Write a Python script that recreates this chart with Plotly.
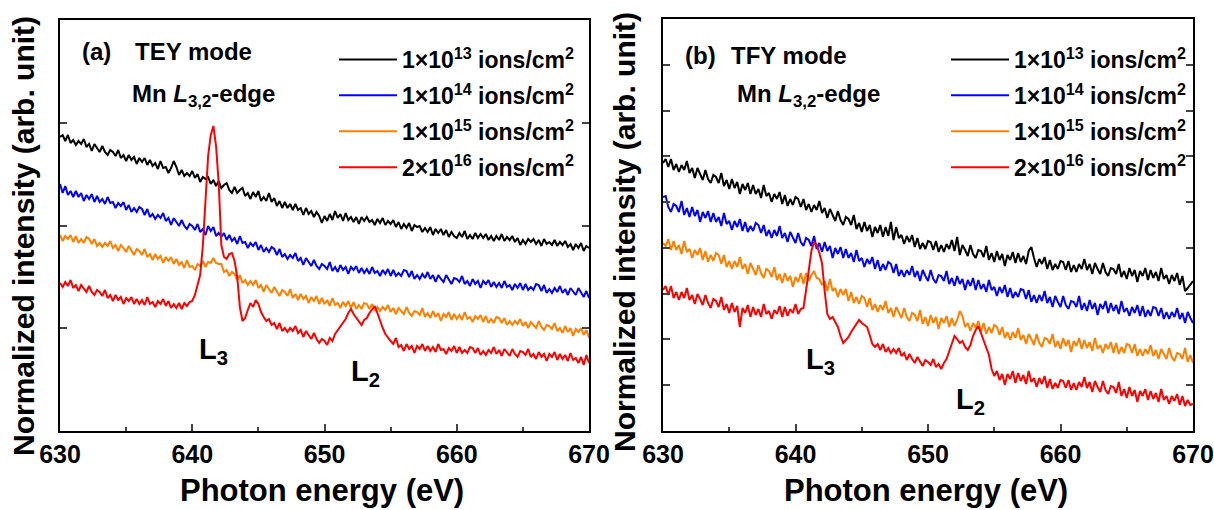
import plotly.graph_objects as go

W, H = 1214, 510

# photon energy grid (eV)
energy = [630.0,
          630.2, 630.4, 630.6, 630.8, 631.0, 631.2, 631.4, 631.6, 631.8, 632.0,
          632.2, 632.4, 632.6, 632.8, 633.0, 633.2, 633.4, 633.6, 633.8, 634.0,
          634.2, 634.4, 634.6, 634.8, 635.0, 635.2, 635.4, 635.6, 635.8, 636.0,
          636.2, 636.4, 636.6, 636.8, 637.0, 637.2, 637.4, 637.6, 637.8, 638.0,
          638.2, 638.4, 638.6, 638.8, 639.0, 639.2, 639.4, 639.6, 639.8, 640.0,
          640.2, 640.4, 640.6, 640.8, 641.0, 641.2, 641.4, 641.6, 641.8, 642.0,
          642.2, 642.4, 642.6, 642.8, 643.0, 643.2, 643.4, 643.6, 643.8, 644.0,
          644.2, 644.4, 644.6, 644.8, 645.0, 645.2, 645.4, 645.6, 645.8, 646.0,
          646.2, 646.4, 646.6, 646.8, 647.0, 647.2, 647.4, 647.6, 647.8, 648.0,
          648.2, 648.4, 648.6, 648.8, 649.0, 649.2, 649.4, 649.6, 649.8, 650.0,
          650.2, 650.4, 650.6, 650.8, 651.0, 651.2, 651.4, 651.6, 651.8, 652.0,
          652.2, 652.4, 652.6, 652.8, 653.0, 653.2, 653.4, 653.6, 653.8, 654.0,
          654.2, 654.4, 654.6, 654.8, 655.0, 655.2, 655.4, 655.6, 655.8, 656.0,
          656.2, 656.4, 656.6, 656.8, 657.0, 657.2, 657.4, 657.6, 657.8, 658.0,
          658.2, 658.4, 658.6, 658.8, 659.0, 659.2, 659.4, 659.6, 659.8, 660.0,
          660.2, 660.4, 660.6, 660.8, 661.0, 661.2, 661.4, 661.6, 661.8, 662.0,
          662.2, 662.4, 662.6, 662.8, 663.0, 663.2, 663.4, 663.6, 663.8, 664.0,
          664.2, 664.4, 664.6, 664.8, 665.0, 665.2, 665.4, 665.6, 665.8, 666.0,
          666.2, 666.4, 666.6, 666.8, 667.0, 667.2, 667.4, 667.6, 667.8, 668.0,
          668.2, 668.4, 668.6, 668.8, 669.0, 669.2, 669.4, 669.6, 669.8, 670.0]

series_names = ["1×10<sup>13</sup> ions/cm<sup>2</sup>",
                "1×10<sup>14</sup> ions/cm<sup>2</sup>",
                "1×10<sup>15</sup> ions/cm<sup>2</sup>",
                "2×10<sup>16</sup> ions/cm<sup>2</sup>"]
series_colors = ["#000000", "#0000FF", "#FF8000", "#FF0000"]

# ---------------- (a) TEY mode (arb. units) ----------------
tey_1e13 = [294,
            296, 290, 296, 288, 291, 286, 290, 287, 292, 284,
            287, 280, 287, 283, 279, 285, 279, 276, 281, 279,
            275, 281, 273, 276, 270, 276, 271, 274, 267, 273,
            269, 273, 266, 271, 265, 268, 262, 270, 263, 264,
            258, 263, 270, 264, 256, 261, 255, 258, 255, 260,
            253, 257, 249, 254, 252, 254, 247, 251, 245, 250,
            243, 246, 248, 241, 238, 244, 238, 241, 243, 235,
            238, 232, 239, 234, 240, 230, 234, 230, 238, 229,
            233, 225, 230, 223, 229, 223, 227, 221, 227, 221,
            223, 216, 223, 217, 220, 214, 219, 215, 208, 215,
            210, 217, 211, 220, 213, 217, 210, 218, 211, 214,
            209, 214, 207, 214, 210, 214, 209, 211, 206, 212,
            208, 213, 206, 210, 207, 211, 204, 209, 202, 207,
            203, 208, 200, 206, 204, 205, 199, 203, 199, 204,
            196, 202, 198, 202, 196, 201, 194, 199, 195, 193,
            198, 194, 200, 192, 196, 192, 198, 193, 197, 193,
            197, 191, 195, 190, 195, 191, 197, 190, 194, 191,
            195, 189, 193, 186, 191, 187, 192, 189, 192, 187,
            191, 185, 192, 187, 189, 186, 191, 185, 189, 186,
            190, 184, 187, 181, 187, 183, 188, 180, 185, 183]
tey_1e14 = [247,
            238, 245, 236, 240, 234, 240, 234, 238, 230, 236,
            232, 237, 229, 235, 229, 232, 227, 234, 228, 229,
            223, 228, 225, 229, 221, 226, 219, 223, 219, 224,
            222, 216, 222, 214, 217, 212, 216, 213, 218, 210,
            213, 206, 213, 209, 205, 211, 205, 202, 207, 205,
            201, 207, 199, 202, 196, 205, 200, 204, 195, 198,
            194, 198, 191, 196, 190, 193, 187, 195, 188, 189,
            183, 188, 185, 189, 181, 186, 179, 183, 179, 184,
            182, 176, 182, 174, 177, 172, 176, 173, 178, 170,
            173, 166, 173, 169, 165, 171, 165, 162, 167, 165,
            162, 169, 160, 164, 159, 166, 161, 164, 157, 164,
            161, 165, 158, 163, 158, 162, 157, 164, 158, 160,
            155, 161, 157, 162, 155, 161, 155, 158, 155, 161,
            160, 154, 160, 152, 156, 152, 157, 153, 159, 152,
            156, 149, 156, 152, 149, 156, 151, 147, 153, 152,
            149, 155, 147, 150, 145, 152, 147, 150, 143, 150,
            147, 151, 144, 149, 144, 148, 143, 150, 144, 146,
            141, 147, 143, 148, 141, 147, 141, 144, 141, 147,
            146, 140, 146, 138, 142, 138, 143, 139, 145, 138,
            142, 136, 143, 139, 136, 143, 138, 134, 140, 133]
tey_1e15 = [196,
            190, 195, 192, 196, 189, 195, 188, 192, 188, 194,
            192, 187, 192, 185, 188, 184, 188, 185, 190, 183,
            186, 180, 186, 183, 179, 185, 180, 176, 182, 180,
            176, 182, 174, 177, 171, 177, 172, 175, 168, 174,
            170, 174, 167, 172, 166, 169, 163, 171, 164, 165,
            161, 167, 165, 170, 164, 169, 168, 173, 168, 167,
            167, 159, 161, 155, 159, 157, 151, 156, 148, 151,
            146, 150, 146, 151, 143, 146, 139, 146, 142, 138,
            144, 139, 135, 141, 139, 135, 142, 133, 137, 131,
            137, 132, 135, 128, 134, 130, 135, 127, 133, 127,
            131, 125, 133, 126, 128, 123, 129, 125, 130, 123,
            129, 122, 126, 122, 128, 127, 122, 127, 120, 124,
            120, 124, 121, 126, 119, 123, 117, 123, 120, 117,
            124, 118, 115, 120, 119, 116, 123, 114, 118, 113,
            120, 114, 118, 110, 117, 114, 119, 111, 117, 112,
            116, 111, 119, 112, 114, 109, 115, 112, 116, 109,
            115, 108, 112, 108, 114, 113, 108, 113, 106, 110,
            106, 110, 107, 112, 105, 109, 103, 109, 106, 103,
            110, 104, 101, 106, 105, 102, 108, 100, 103, 98,
            105, 99, 103, 95, 102, 99, 103, 96, 101, 93]
tey_2e16 = [148,
            144, 149, 145, 151, 143, 146, 140, 146, 143, 139,
            145, 139, 136, 141, 139, 135, 141, 133, 136, 130,
            136, 131, 134, 127, 133, 130, 134, 127, 132, 127,
            131, 126, 134, 127, 129, 124, 130, 127, 132, 125,
            130, 123, 127, 123, 128, 122, 128, 125, 129, 130,
            136, 145, 156, 185, 232, 275, 296, 305, 285, 248,
            186, 174, 172, 177, 178, 170, 154, 124, 110, 113,
            121, 128, 124, 131, 127, 119, 114, 110, 112, 106,
            108, 102, 108, 100, 103, 99, 103, 100, 105, 98,
            101, 94, 100, 96, 92, 98, 92, 88, 92, 90,
            86, 93, 90, 97, 101, 104, 109, 112, 118, 122,
            117, 113, 110, 106, 111, 113, 118, 122, 125, 118,
            110, 103, 97, 93, 90, 87, 93, 84, 86, 80,
            87, 82, 85, 78, 85, 82, 87, 80, 85, 80,
            84, 79, 87, 81, 82, 77, 83, 80, 85, 78,
            84, 78, 81, 78, 84, 83, 78, 83, 76, 80,
            76, 81, 78, 84, 77, 81, 75, 82, 78, 75,
            82, 77, 74, 80, 79, 76, 82, 74, 77, 72,
            79, 74, 77, 70, 77, 74, 79, 71, 77, 72,
            76, 70, 78, 71, 73, 68, 74, 66, 76, 68]

# ---------------- (b) TFY mode (arb. units) ----------------
tfy_1e13 = [268,
            272, 264, 272, 261, 267, 259, 266, 261, 270, 258,
            263, 253, 263, 257, 251, 261, 252, 248, 256, 254,
            248, 258, 245, 251, 242, 252, 243, 249, 237, 247,
            241, 248, 237, 246, 237, 242, 233, 246, 235, 238,
            229, 237, 232, 239, 227, 236, 225, 232, 226, 234,
            232, 224, 232, 221, 227, 219, 226, 221, 230, 218,
            223, 213, 222, 216, 210, 220, 211, 206, 214, 212,
            206, 216, 202, 208, 199, 209, 200, 206, 194, 204,
            198, 206, 194, 204, 195, 209, 191, 204, 193, 196,
            187, 195, 189, 196, 184, 193, 182, 188, 182, 190,
            189, 181, 190, 179, 186, 179, 187, 182, 191, 180,
            194, 176, 186, 181, 175, 186, 177, 173, 181, 180,
            174, 185, 171, 178, 169, 180, 171, 177, 165, 176,
            171, 179, 168, 178, 169, 175, 167, 180, 184, 173,
            164, 172, 167, 174, 162, 171, 161, 167, 162, 170,
            169, 161, 170, 159, 166, 159, 167, 162, 172, 161,
            167, 157, 168, 162, 157, 168, 159, 155, 163, 162,
            157, 167, 154, 160, 152, 163, 155, 161, 149, 160,
            155, 163, 151, 161, 153, 159, 150, 163, 152, 156,
            147, 156, 150, 158, 146, 155, 140, 143, 146, 150]
tfy_1e14 = [234,
            235, 224, 219, 227, 225, 219, 230, 216, 223, 214,
            224, 215, 221, 209, 219, 213, 220, 209, 218, 209,
            214, 205, 218, 207, 210, 201, 210, 204, 212, 200,
            209, 199, 205, 200, 208, 206, 198, 206, 195, 201,
            193, 201, 195, 205, 193, 198, 189, 199, 194, 188,
            198, 189, 185, 193, 191, 185, 195, 182, 188, 179,
            189, 180, 185, 173, 183, 177, 184, 173, 182, 173,
            178, 169, 181, 170, 173, 164, 172, 167, 174, 162,
            171, 160, 167, 161, 169, 167, 158, 167, 155, 161,
            154, 161, 156, 165, 154, 160, 150, 161, 155, 150,
            161, 152, 148, 156, 155, 150, 160, 147, 153, 145,
            155, 147, 152, 141, 151, 145, 153, 141, 151, 142,
            147, 139, 151, 141, 144, 135, 144, 138, 146, 134,
            143, 133, 139, 134, 142, 141, 132, 141, 129, 136,
            128, 136, 130, 140, 128, 134, 124, 135, 129, 124,
            135, 126, 122, 130, 129, 124, 135, 121, 128, 120,
            131, 122, 128, 116, 127, 122, 130, 118, 128, 120,
            126, 117, 130, 119, 123, 115, 124, 118, 126, 115,
            125, 114, 121, 115, 124, 123, 115, 123, 112, 119,
            112, 119, 114, 123, 112, 118, 108, 119, 113, 108]
tfy_1e15 = [188,
            185, 192, 181, 190, 181, 186, 177, 190, 179, 182,
            173, 181, 176, 183, 171, 180, 169, 176, 170, 178,
            176, 167, 176, 164, 170, 162, 170, 164, 174, 162,
            167, 157, 168, 162, 156, 166, 158, 153, 162, 160,
            154, 164, 151, 157, 148, 158, 150, 155, 144, 154,
            149, 158, 147, 158, 150, 156, 160, 153, 152, 146,
            150, 140, 152, 140, 143, 134, 142, 136, 142, 130,
            139, 128, 134, 127, 135, 133, 124, 133, 121, 127,
            119, 126, 121, 130, 118, 123, 114, 124, 119, 113,
            123, 114, 110, 118, 116, 110, 121, 107, 114, 105,
            116, 108, 114, 102, 113, 108, 115, 104, 113, 105,
            111, 120, 115, 104, 108, 100, 108, 103, 110, 99,
            108, 97, 104, 98, 106, 104, 96, 104, 93, 99,
            91, 99, 93, 103, 91, 96, 87, 97, 92, 86,
            97, 88, 84, 93, 92, 87, 97, 84, 90, 82,
            93, 85, 91, 79, 90, 85, 93, 82, 91, 83,
            89, 80, 93, 82, 86, 78, 87, 82, 89, 78,
            88, 77, 84, 78, 87, 86, 78, 87, 75, 82,
            75, 82, 77, 86, 75, 81, 72, 82, 77, 72,
            83, 74, 70, 78, 77, 72, 83, 69, 76, 68]
tfy_2e16 = [141,
            145, 136, 145, 133, 139, 131, 139, 133, 143, 131,
            136, 127, 137, 132, 126, 136, 128, 123, 132, 130,
            124, 134, 121, 127, 118, 128, 119, 125, 104, 123,
            118, 126, 114, 124, 116, 122, 114, 127, 117, 120,
            112, 121, 117, 125, 114, 124, 115, 122, 118, 127,
            117, 122, 123, 141, 162, 180, 189, 186, 178, 168,
            140, 117, 112, 114, 109, 104, 95, 88, 91, 94,
            99, 103, 107, 111, 108, 106, 104, 96, 87, 84,
            87, 81, 87, 79, 83, 78, 82, 78, 83, 75,
            78, 71, 77, 72, 68, 74, 69, 65, 71, 69,
            66, 72, 64, 67, 62, 68, 72, 80, 88, 95,
            92, 88, 90, 84, 81, 86, 95, 101, 105, 98,
            90, 84, 76, 62, 55, 60, 51, 57, 46, 57,
            52, 60, 48, 58, 50, 56, 47, 60, 49, 53,
            44, 53, 47, 55, 43, 52, 42, 48, 43, 51,
            50, 43, 51, 41, 48, 41, 49, 44, 54, 43,
            49, 39, 50, 44, 39, 50, 41, 37, 45, 44,
            38, 49, 35, 42, 33, 44, 35, 41, 29, 40,
            35, 42, 31, 40, 32, 38, 29, 42, 31, 35,
            27, 35, 30, 37, 26, 35, 25, 31, 26, 27]

tey_series = [tey_1e13, tey_1e14, tey_1e15, tey_2e16]
tfy_series = [tfy_1e13, tfy_1e14, tfy_1e15, tfy_2e16]
for s in tey_series + tfy_series:
    assert len(s) == len(energy), len(s)

x_range = [630, 670]
x_ticks = [630, 640, 650, 660, 670]
y_range_a = [0, 411]
y_range_b = [0, 412]

FONT = "Liberation Sans, Arial, sans-serif"


def px(xp):
    return xp / W


def py(yp):
    return 1 - yp / H


fig = go.Figure()

for vals, name, col in zip(tey_series, series_names, series_colors):
    fig.add_trace(go.Scatter(x=energy, y=vals, mode="lines", name=name,
                             line=dict(color=col, width=2),
                             xaxis="x", yaxis="y", legend="legend",
                             legendgroup="a" + name))
for vals, name, col in zip(tfy_series, series_names, series_colors):
    fig.add_trace(go.Scatter(x=energy, y=vals, mode="lines", name=name,
                             line=dict(color=col, width=2),
                             xaxis="x2", yaxis="y2", legend="legend2",
                             legendgroup="b" + name))

common_x = dict(range=x_range, tickvals=x_ticks, ticks="inside", ticklen=7,
                tickwidth=1.5, showline=True, linewidth=1.8, linecolor="black",
                mirror=True, showgrid=False, zeroline=False, automargin=False,
                tickfont=dict(family=FONT, size=25, color="black", weight="bold"),
                minor=dict(dtick=5, ticks="inside", ticklen=4, tickwidth=1.5,
                           showgrid=False))
common_y = dict(ticks="inside", ticklen=7, tickwidth=1.5, showline=True,
                linewidth=1.8, linecolor="black", mirror="ticks",
                showgrid=False, zeroline=False, showticklabels=False,
                automargin=False, tickmode="linear", tick0=0)

legend_style = dict(xanchor="left", yanchor="top", bgcolor="rgba(0,0,0,0)",
                    itemwidth=58, tracegroupgap=3,
                    font=dict(family=FONT, size=23, color="black", weight="bold"))

fig.update_layout(
    template="none",
    width=W, height=H,
    margin=dict(l=0, r=0, t=0, b=0, autoexpand=False),
    paper_bgcolor="white", plot_bgcolor="white",
    font=dict(family=FONT, color="black", size=24, weight="bold"),
    xaxis=dict(domain=[px(60), px(589)], anchor="y", **common_x),
    yaxis=dict(domain=[py(431), py(20)], anchor="x", range=y_range_a,
               dtick=411 / 4, **common_y),
    xaxis2=dict(domain=[px(663), px(1193)], anchor="y2", **common_x),
    yaxis2=dict(domain=[py(431), py(19)], anchor="x2", range=y_range_b,
                dtick=412 / 9, **common_y),
    legend=dict(x=px(334), y=py(38), **legend_style),
    legend2=dict(x=px(946), y=py(38), **legend_style),
    showlegend=True,
)

ann_font = dict(family=FONT, size=24, color="black", weight="bold")
title_font = dict(family=FONT, size=31, color="black", weight="bold")
ytitle_font = dict(family=FONT, size=30, color="black", weight="bold")
annotations = [
    dict(text="(a)", x=px(80), y=py(52), xanchor="left"),
    dict(text="TEY mode", x=px(133), y=py(52), xanchor="left"),
    dict(text="Mn <i>L</i><sub>3,2</sub>-edge", x=px(130), y=py(95), xanchor="left"),
    dict(text="(b)", x=px(683), y=py(55), xanchor="left"),
    dict(text="TFY mode", x=px(729), y=py(55), xanchor="left"),
    dict(text="Mn <i>L</i><sub>3,2</sub>-edge", x=px(735), y=py(95), xanchor="left"),
    dict(text="Photon energy (eV)", x=px(322), y=py(490), font=title_font),
    dict(text="Photon energy (eV)", x=px(926), y=py(490), font=title_font),
    dict(text="Normalized intensity (arb. unit)", x=px(23), y=py(236),
         textangle=-90, font=ytitle_font),
    dict(text="Normalized intensity (arb. unit)", x=px(625), y=py(232),
         textangle=-90, font=ytitle_font),
]
for a in annotations:
    a.setdefault("font", ann_font)
    fig.add_annotation(xref="paper", yref="paper", showarrow=False,
                       yanchor="middle", **({"xanchor": "center"} | a))

# peak labels anchored in data coordinates
peak_font = dict(family=FONT, size=29, color="black", weight="bold")
fig.add_annotation(text="L<sub>3</sub>", x=641.6, y=80, xref="x", yref="y",
                   showarrow=False, font=peak_font)
fig.add_annotation(text="L<sub>2</sub>", x=653.1, y=58, xref="x", yref="y",
                   showarrow=False, font=peak_font)
fig.add_annotation(text="L<sub>3</sub>", x=641.9, y=70, xref="x2", yref="y2",
                   showarrow=False, font=peak_font)
fig.add_annotation(text="L<sub>2</sub>", x=653.2, y=30, xref="x2", yref="y2",
                   showarrow=False, font=peak_font)

fig.write_html("out.html")
